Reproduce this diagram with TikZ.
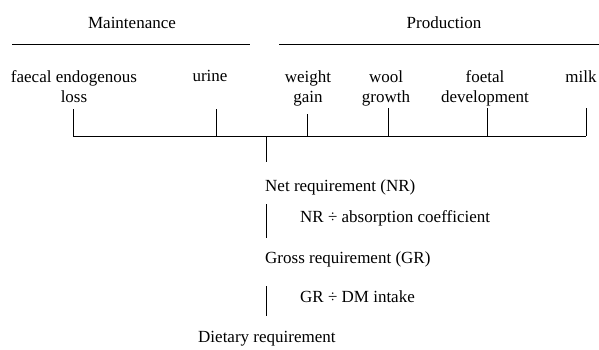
\documentclass[tikz,border=0pt]{standalone}
\usepackage{fontspec}
\setmainfont{Liberation Serif}
\begin{document}
\begin{tikzpicture}[x=1pt, y=-1pt,
  every node/.style={font=\fontsize{17}{20}\selectfont, inner sep=0pt},
  item/.style={anchor=north, align=center},
  stage/.style={anchor=base west},
  rule/.style={line width=1pt}]
\useasboundingbox (0,0) rectangle (599,349);
% headings
\node (maint) at (132,23) {Maintenance};
\node (prod) at (444,23) {Production};
\draw [rule] (12,44) coordinate (maint-l) -- (250,44) coordinate (maint-r);
\draw [rule] (279,44) coordinate (prod-l) -- (599,44) coordinate (prod-r);
% items
\node [item] (faecal) at (74,70) {faecal endogenous\\loss};
\node [item] (urine) at (210,70) {urine};
\node [item] (weight) at (308,70) {weight\\gain};
\node [item] (wool) at (386,70) {wool\\growth};
\node [item] (foetal) at (485,70) {foetal\\development};
\node [item] (milk) at (581,70) {milk};
\foreach \n/\x/\t in {faecal/73/109, urine/216/109, weight/307/114, wool/388/108, foetal/487/108, milk/586/108}
  \draw [rule] (\x,\t) coordinate (\n-top) -- (\x,136) coordinate (\n-bot);
\draw [rule] (faecal-bot) -- (milk-bot);
% requirements
\coordinate (hub) at (266,136);
\node [stage] (net) at (265,191) {Net requirement (NR)};
\node [stage] (absorb) at (300,222) {NR ÷ absorption coefficient};
\node [stage] (gross) at (265,263) {Gross requirement (GR)};
\node [stage] (intake) at (300,302) {GR ÷ DM intake};
\node [stage] (diet) at (198,342) {Dietary requirement};
\draw [rule] (hub) -- (266,162) coordinate (hub-end);
\draw [rule] (266,204) coordinate (bar1-top) -- (266,238) coordinate (bar1-bot);
\draw [rule] (266,286) coordinate (bar2-top) -- (266,316) coordinate (bar2-bot);
\end{tikzpicture}
\end{document}
